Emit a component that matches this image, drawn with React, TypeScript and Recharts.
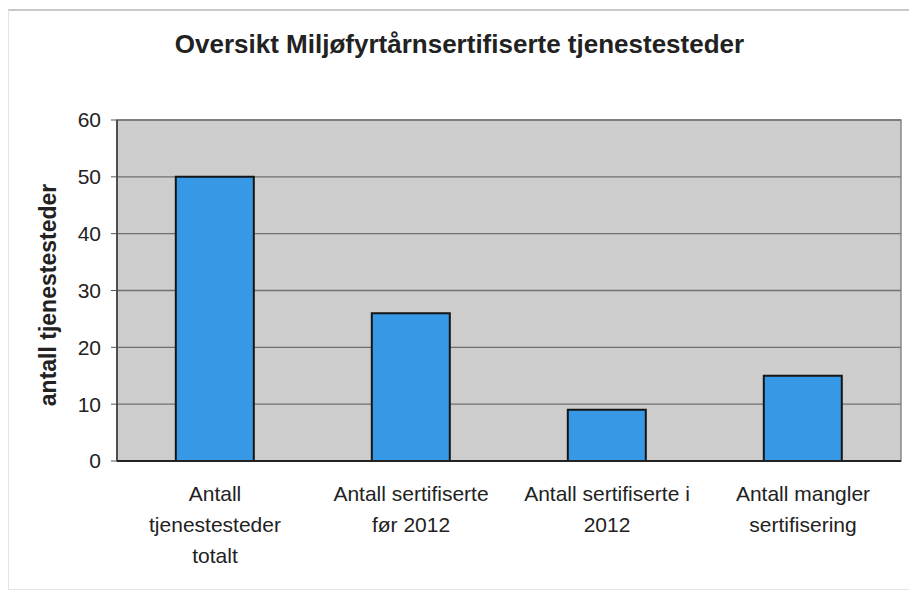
import { BarChart, Bar, XAxis, YAxis, CartesianGrid, ReferenceArea } from "recharts";

const categories = [
  "Antall tjenestesteder totalt",
  "Antall sertifiserte før 2012",
  "Antall sertifiserte i 2012",
  "Antall mangler sertifisering",
];
const values = [50, 26, 9, 15];
const tickLabels = [
  ["Antall", "tjenestesteder", "totalt"],
  ["Antall sertifiserte", "før 2012"],
  ["Antall sertifiserte i", "2012"],
  ["Antall mangler", "sertifisering"],
];
const yTicks = [0, 10, 20, 30, 40, 50, 60];

const data = categories.map((name, i) => ({ name, value: values[i] }));

const FONT = "'Liberation Sans', Arial, sans-serif";

function CategoryTick(props: any) {
  const { x, y, index } = props;
  const lines = tickLabels[index] ?? [];
  return (
    <text x={x} y={y} textAnchor="middle" fill="#222" fontSize={21} fontFamily={FONT}>
      {lines.map((line, i) => (
        <tspan key={i} x={x} dy={i === 0 ? 32 : 31}>
          {line}
        </tspan>
      ))}
    </text>
  );
}

function AxisTitle() {
  const cx = 48;
  const cy = 295;
  return (
    <text
      x={cx}
      y={cy}
      transform={`rotate(-90 ${cx} ${cy})`}
      textAnchor="middle"
      dominantBaseline="central"
      fontSize={23}
      fontWeight="bold"
      fontFamily={FONT}
      fill="#222"
    >
      antall tjenestesteder
    </text>
  );
}

export default function App() {
  return (
    <div
      style={{
        position: "absolute",
        left: 0,
        top: 0,
        width: 909,
        height: 592,
        background: "#fff",
        fontFamily: FONT,
      }}
    >
      <div
        style={{
          position: "absolute",
          left: 8,
          top: 9,
          width: 909,
          height: 578,
          borderTop: "2px solid #c8c8c8",
          borderLeft: "1px solid #e4e4e4",
          borderBottom: "1px solid #e4e4e4",
        }}
      />
      <div
        style={{
          position: "absolute",
          left: 0,
          width: 909,
          top: 28,
          lineHeight: "33px",
          textAlign: "center",
          fontSize: 26,
          fontWeight: "bold",
          color: "#222",
          paddingLeft: 10,
          boxSizing: "border-box",
        }}
      >
        Oversikt Miljøfyrtårnsertifiserte tjenestesteder
      </div>
      <BarChart
        width={909}
        height={592}
        data={data}
        margin={{ top: 120, right: 8, bottom: 0, left: 0 }}
        barCategoryGap="30%"
        style={{ position: "absolute", left: 0, top: 0 }}
      >
        <CartesianGrid vertical={false} fill="#cdcdcd" stroke="#707070" strokeWidth={1.3} />
        <ReferenceArea y1={0} y2={60} fill="none" stroke="#7a7a7a" strokeWidth={1.3} />
        <XAxis
          dataKey="name"
          height={131}
          interval={0}
          tick={<CategoryTick />}
          tickLine={false}
          axisLine={{ stroke: "#222", strokeWidth: 2 }}
        />
        <YAxis
          width={117}
          domain={[0, 60]}
          ticks={yTicks}
          interval={0}
          tickSize={6}
          tickMargin={10}
          tick={{ fontSize: 21, fill: "#222", fontFamily: FONT }}
          tickLine={{ stroke: "#555" }}
          axisLine={{ stroke: "#333", strokeWidth: 1.5 }}
          label={<AxisTitle />}
        />
        <Bar
          dataKey="value"
          fill="#3799e6"
          stroke="#151515"
          strokeWidth={2}
          isAnimationActive={false}
        />
      </BarChart>
    </div>
  );
}
